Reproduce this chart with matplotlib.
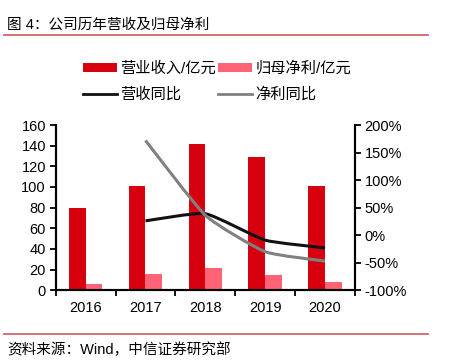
import numpy as np
import matplotlib
matplotlib.use("Agg")
import matplotlib.pyplot as plt
from matplotlib.path import Path
from matplotlib.patches import PathPatch
from matplotlib.lines import Line2D
from matplotlib.ticker import FuncFormatter

plt.rcParams['font.family'] = ['Liberation Sans', 'Noto Sans CJK SC']

years = ['2016', '2017', '2018', '2019', '2020']
revenue = [79.5, 101, 142, 129, 100.5]      # 营业收入/亿元
net_profit = [6.0, 16.0, 21.3, 14.5, 7.7]   # 归母净利/亿元
rev_growth = [None, 26, 39, -9, -23]        # 营收同比 %
profit_growth = [None, 172, 36, -30, -47]   # 净利同比 %

RED = '#D7000F'
PINK = '#FF6476'
RULE = '#D4666B'


def smooth_path(xs, ys, k=12):
    # lightly rounded line through the points (excel-ish smoothing)
    pts = np.column_stack([xs, ys]).astype(float)
    verts = [pts[0]]
    codes = [Path.MOVETO]
    n = len(pts)
    for i in range(n - 1):
        p0 = pts[max(i - 1, 0)]
        p1 = pts[i]
        p2 = pts[i + 1]
        p3 = pts[min(i + 2, n - 1)]
        verts += [p1 + (p2 - p0) / k, p2 - (p3 - p1) / k, p2]
        codes += [Path.CURVE4] * 3
    return Path(verts, codes)


fig = plt.figure(figsize=(4.74, 3.63), dpi=100)
ax = fig.add_axes([0.1175, 0.2003, 0.749 - 0.1175, 0.6556 - 0.2003])
ax2 = ax.twinx()

x = np.arange(len(years))
w = 0.28
b1 = ax.bar(x - w / 2, revenue, w, color=RED, label='营业收入/亿元')
b2 = ax.bar(x + w / 2, net_profit, w, color=PINK, label='归母净利/亿元')

gx = [i for i, v in enumerate(rev_growth) if v is not None]
gy = [v for v in rev_growth if v is not None]
px = [i for i, v in enumerate(profit_growth) if v is not None]
py = [v for v in profit_growth if v is not None]
ax2.add_patch(PathPatch(smooth_path(gx, gy), fill=False, ec='#111111', lw=2.2,
                        capstyle='butt', joinstyle='round'))
ax2.add_patch(PathPatch(smooth_path(px, py), fill=False, ec='#808080', lw=2.2,
                        capstyle='butt', joinstyle='round'))
l1 = Line2D([], [], color='#111111', lw=2.0, label='营收同比')
l2 = Line2D([], [], color='#808080', lw=2.0, label='净利同比')

ax.set_xlim(-0.5, len(years) - 0.5)
ax.set_ylim(0, 160)
ax.set_yticks(range(0, 161, 20))
ax2.set_ylim(-100, 200)
ax2.set_yticks(range(-100, 201, 50))
ax2.yaxis.set_major_formatter(FuncFormatter(lambda v, p: '%d%%' % v))

ax.set_xticks(x)
ax.set_xticklabels(years)
ax.set_xticks(np.arange(-0.5, len(years), 1), minor=True)
ax.tick_params(axis='x', which='major', length=0, pad=8, labelsize=10.5)
ax.tick_params(axis='x', which='minor', length=4, width=1.3, direction='out')
ax.tick_params(axis='y', length=4, width=1.3, pad=3, labelsize=10.5)
ax2.tick_params(axis='y', length=4, width=1.3, pad=3, labelsize=10.5)

for a in (ax, ax2):
    a.spines['top'].set_visible(False)
    for s in ('left', 'right', 'bottom'):
        a.spines[s].set_linewidth(1.5)
        a.spines[s].set_color('black')

fig.legend(handles=[b1, l1, b2, l2], ncol=2, loc='upper left',
           bbox_to_anchor=(83 / 474, 1 - 61 / 363), frameon=False,
           fontsize=11, handlelength=2.2, handleheight=0.55,
           handletextpad=0.2, columnspacing=0.2, labelspacing=0.75,
           borderaxespad=0, borderpad=0)

fig.text(7 / 474, 1 - 25 / 363, '图 4：公司历年营收及归母净利', fontsize=10.5, va='center')
fig.add_artist(Line2D([4 / 474, 428 / 474], [1 - 35 / 363] * 2, color=RULE, lw=1.3))
fig.add_artist(Line2D([4 / 474, 428 / 474], [1 - 334 / 363] * 2, color=RULE, lw=1.3))
fig.text(7 / 474, 1 - 350 / 363, '资料来源：Wind，中信证券研究部', fontsize=10.5, va='center')

fig.savefig('out.png', dpi=100)
